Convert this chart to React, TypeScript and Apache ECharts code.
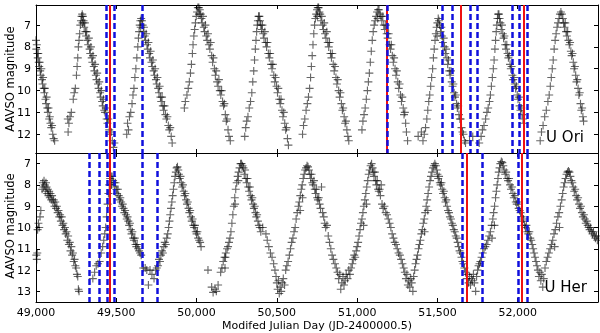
import React, { useEffect, useRef } from "react";
import * as echarts from "echarts";

// U Ori light curve: [Modified Julian Day, AAVSO magnitude]
const uOri: [number, number][] = [
  [49000,7.7],[49002,8.1],[49005,7.9],[49008,8.3],[49011,8.5],[49014,8.3],[49017,8.7],[49020,8.9],[49023,8.7],[49026,9.1],[49030,9.3],[49033,9.0],[49037,9.5],[49041,9.7],[49044,9.4],[49048,9.9],[49052,10.1],[49055,9.9],[49059,10.4],[49063,10.6],[49066,10.3],[49070,10.8],[49074,11.0],[49078,10.8],[49082,11.3],[49086,11.2],[49090,11.5],[49095,11.7],[49100,11.6],[49104,12.0],[49110,12.2],[49116,12.3],
  [49198,11.3],[49200,11.9],[49205,11.5],[49212,11.2],[49220,11.0],[49232,10.4],[49238,10.1],[49245,9.9],[49252,9.3],[49256,8.9],[49260,8.5],[49264,8.0],[49268,7.7],[49272,7.4],[49276,7.0],[49280,6.8],[49284,6.6],[49288,6.5],[49292,6.6],[49290,6.9],
  [49296,6.8],[49300,7.1],[49304,6.9],[49308,7.3],[49312,7.5],[49316,7.3],[49320,7.7],[49325,7.9],[49329,7.6],[49334,8.1],[49338,8.3],[49342,8.0],[49347,8.5],[49351,8.7],[49355,8.4],[49360,8.9],[49364,9.1],[49368,8.8],[49373,9.3],[49377,9.5],[49381,9.2],[49386,9.7],[49390,9.9],[49394,9.6],[49399,10.1],[49403,10.3],[49407,10.0],[49412,10.5],[49416,10.7],[49420,10.4],[49425,10.9],[49430,11.0],[49434,10.8],[49440,11.3],[49445,11.5],[49450,11.3],[49456,11.8],[49462,12.0],[49468,11.9],[49475,12.3],[49482,12.6],[49488,12.4],
  [49565,12.0],[49570,11.5],[49576,11.8],[49582,11.2],[49590,11.0],[49598,10.6],[49604,10.2],[49610,9.9],[49616,9.4],[49622,9.0],[49628,8.5],[49634,8.0],[49638,7.6],[49642,7.3],[49646,7.0],[49650,6.8],[49655,6.7],[49660,6.8],[49652,7.1],
  [49664,7.0],[49668,7.3],[49672,7.1],[49677,7.5],[49682,7.7],[49686,7.4],[49691,7.9],[49696,8.1],[49700,7.8],[49705,8.3],[49710,8.5],[49714,8.2],[49719,8.7],[49724,8.9],[49728,8.6],[49733,9.1],[49738,9.3],[49742,9.0],[49747,9.5],[49752,9.7],[49756,9.4],[49761,9.9],[49766,10.1],[49770,9.8],[49775,10.3],[49780,10.5],[49785,10.3],[49790,10.7],[49795,10.9],[49800,10.7],[49806,11.1],[49812,11.3],[49818,11.2],[49824,11.6],[49830,11.8],[49836,11.7],[49842,12.1],[49848,12.4],
  [49924,10.8],[49930,10.5],[49940,10.2],[49948,9.9],[49955,9.6],[49962,9.2],[49968,8.8],[49974,8.3],[49978,7.9],[49983,7.5],[49988,7.2],[49993,6.9],[49998,6.6],[50003,6.4],[50008,6.2],[50014,6.2],[50020,6.3],[50026,6.5],[50015,6.5],
  [50030,6.7],[50035,6.9],[50040,6.6],[50045,7.1],[50050,7.3],[50055,7.0],[50060,7.5],[50066,7.7],[50071,7.4],[50077,7.9],[50083,8.1],[50088,7.8],[50094,8.4],[50100,8.7],[50105,8.5],[50111,9.0],[50117,9.3],[50122,9.1],[50128,9.6],[50134,9.8],[50139,9.5],[50145,10.0],[50151,10.2],[50156,10.0],[50162,10.5],[50168,10.7],[50173,10.6],[50179,11.1],[50185,11.4],[50190,11.3],[50196,11.8],[50202,12.1],[50210,12.3],
  [50300,12.1],[50306,11.7],[50312,11.4],[50320,11.2],[50328,10.8],[50336,10.5],[50344,10.1],[50350,9.6],[50356,9.1],[50361,8.6],[50366,8.1],[50370,7.7],[50374,7.3],[50378,7.0],[50382,6.8],[50386,6.6],[50391,6.6],[50395,6.8],
  [50400,7.0],[50405,7.2],[50410,7.0],[50415,7.4],[50420,7.6],[50425,7.3],[50430,7.8],[50436,8.0],[50441,7.8],[50447,8.3],[50453,8.5],[50458,8.3],[50464,8.8],[50470,9.0],[50475,8.8],[50481,9.3],[50487,9.6],[50492,9.4],[50498,9.8],[50504,10.1],[50509,9.9],[50515,10.4],[50521,10.6],[50526,10.4],[50532,10.9],[50538,11.2],[50543,11.0],[50549,11.5],[50555,11.8],[50560,11.7],[50566,12.2],[50572,12.5],
  [50660,12.0],[50666,11.6],[50674,11.3],[50682,10.9],[50690,10.6],[50697,10.3],[50704,9.9],[50710,9.4],[50715,8.9],[50720,8.4],[50725,7.9],[50730,7.4],[50735,7.0],[50740,6.7],[50745,6.5],[50750,6.3],[50755,6.2],[50760,6.2],[50765,6.4],[50752,6.6],
  [50770,6.5],[50775,6.8],[50780,6.6],[50785,7.0],[50790,7.2],[50795,6.9],[50800,7.4],[50806,7.6],[50811,7.3],[50817,7.8],[50823,8.0],[50828,7.8],[50834,8.3],[50840,8.5],[50845,8.3],[50851,8.8],[50857,9.1],[50862,8.9],[50868,9.4],[50874,9.7],[50879,9.5],[50885,10.0],[50891,10.3],[50896,10.1],[50902,10.6],[50908,10.9],[50913,10.8],[50919,11.2],[50925,11.5],[50930,11.4],[50936,11.8],[50942,12.1],[50948,12.3],
  [51030,11.8],[51036,11.4],[51043,11.1],[51050,10.8],[51057,10.4],[51064,10.0],[51070,9.6],[51076,9.2],[51082,8.7],[51088,8.2],[51094,7.7],[51100,7.3],[51106,7.0],[51112,6.8],[51118,6.6],[51124,6.4],[51130,6.3],[51136,6.3],[51142,6.5],[51128,6.7],
  [51148,6.6],[51154,6.8],[51160,6.6],[51166,7.0],[51172,7.2],[51178,7.0],[51184,7.4],[51190,7.6],[51196,7.4],[51202,7.9],[51208,8.1],[51213,7.9],[51219,8.4],[51225,8.7],[51230,8.5],[51236,9.0],[51242,9.3],[51247,9.1],[51253,9.6],[51259,9.9],[51264,9.7],[51270,10.2],[51276,10.5],[51281,10.3],[51287,10.8],[51292,11.1],[51297,11.0],[51302,11.5],[51307,11.9],[51314,12.3],[51380,12.1],[51400,11.9],
  [51410,12.3],[51418,12.0],[51426,11.7],[51434,11.3],[51440,10.9],[51446,10.5],[51452,10.2],[51458,9.8],[51464,9.4],[51470,9.0],[51475,8.5],[51480,8.1],[51485,7.7],[51490,7.4],[51495,7.1],[51500,6.9],[51505,6.7],[51510,6.8],[51498,7.5],
  [51514,7.0],[51519,7.3],[51524,7.1],[51529,7.5],[51534,7.8],[51539,7.6],[51544,8.0],[51549,8.3],[51554,8.1],[51559,8.5],[51564,8.8],[51569,8.6],[51574,9.1],[51579,9.3],[51584,9.1],[51589,9.6],[51594,9.8],[51599,9.7],[51604,10.1],[51609,10.3],[51614,10.2],[51619,10.6],[51624,10.8],[51629,10.7],[51634,11.1],[51640,11.3],[51645,11.3],[51650,11.7],[51656,11.9],[51662,12.0],[51668,12.3],[51675,12.4],
  [51700,12.3],[51720,12.1],[51760,12.4],[51772,12.1],[51780,11.8],[51790,11.6],[51800,11.3],[51808,11.0],[51816,10.8],[51824,10.5],[51830,10.2],[51836,9.8],[51842,9.4],[51848,9.0],[51853,8.6],[51858,8.1],[51862,7.7],[51866,7.3],[51870,7.0],[51874,6.7],[51878,6.5],[51883,6.5],[51887,6.7],
  [51892,6.9],[51897,7.2],[51902,7.0],[51907,7.4],[51912,7.6],[51917,7.5],[51922,7.9],[51927,8.1],[51932,7.9],[51937,8.3],[51942,8.5],[51947,8.4],[51952,8.8],[51957,9.0],[51962,8.9],[51967,9.3],[51972,9.5],[51977,9.4],[51982,9.7],[51987,9.9],[51992,9.8],[51997,10.2],[52002,10.4],[52007,10.3],[52012,10.7],[52017,10.9],[52022,10.8],[52027,11.1],[52033,11.3],[52038,11.5],
  [52140,12.3],[52148,11.9],[52158,11.6],[52168,11.2],[52178,10.9],[52188,10.5],[52196,10.2],[52203,9.8],[52209,9.4],[52215,9.0],[52221,8.6],[52227,8.1],[52233,7.7],[52239,7.4],[52245,7.1],[52251,6.9],[52257,6.7],[52263,6.5],[52269,6.4],[52275,6.5],[52281,6.7],
  [52286,6.9],[52291,7.1],[52296,6.9],[52301,7.3],[52306,7.5],[52311,7.3],[52316,7.7],[52321,7.9],[52326,7.8],[52331,8.2],[52336,8.4],[52341,8.3],[52346,8.7],[52351,9.0],[52356,8.9],[52361,9.3],[52366,9.6],[52371,9.5],[52376,9.9],[52381,10.2],[52386,10.1],[52391,10.6],[52396,10.9],[52401,10.8],[52406,11.2],[52410,11.4],
];

// U Her light curve: [Modified Julian Day, AAVSO magnitude]
const uHer: [number, number][] = [
  [49002,11.3],[49005,11.5],[49008,11.2],[49010,10.1],[49015,9.8],[49020,10.0],[49025,9.5],[49030,9.2],
  [49038,8.2],[49042,7.9],[49046,8.1],[49050,7.8],[49054,8.0],[49058,8.3],[49062,7.9],[49066,8.1],[49070,8.4],[49074,8.2],[49078,8.5],[49082,8.3],
  [49086,8.6],[49090,8.4],[49095,8.7],[49100,8.5],[49105,8.8],[49110,8.7],[49115,9.0],[49120,8.8],[49125,9.1],[49130,9.0],[49135,9.3],[49140,9.2],[49145,9.5],[49150,9.4],[49155,9.7],[49160,9.5],[49165,9.9],[49170,9.8],[49175,10.1],[49180,10.0],[49185,10.3],[49190,10.2],[49195,10.6],[49200,10.4],[49205,10.8],[49210,10.7],[49215,11.1],[49220,10.9],[49225,11.3],[49230,11.2],[49235,11.6],[49240,11.5],[49245,11.8],[49250,11.9],[49255,12.2],[49260,12.3],[49264,12.9],[49268,13.0],
  [49354,12.4],[49365,12.1],[49375,11.8],[49386,11.7],[49396,11.6],[49406,11.2],[49415,10.9],[49422,10.6],[49428,10.3],[49434,10.0],[49440,9.5],[49446,8.9],[49451,8.4],[49456,8.0],[49462,7.7],[49468,7.6],[49474,7.6],[49480,7.8],[49470,8.0],
  [49485,7.9],[49490,8.1],[49495,7.9],[49500,8.2],[49505,8.4],[49510,8.2],[49515,8.5],[49520,8.7],[49525,8.6],[49530,8.8],[49535,9.0],[49540,8.9],[49545,9.1],[49550,9.3],[49555,9.2],[49560,9.4],[49565,9.6],[49570,9.5],[49575,9.7],[49580,9.9],[49585,9.8],[49590,10.1],[49595,10.3],[49600,10.2],[49605,10.5],[49610,10.6],[49615,10.5],[49620,10.8],[49625,10.9],[49630,10.8],[49636,11.0],[49642,11.1],[49648,11.2],[49655,11.3],
  [49668,11.9],[49680,11.9],[49690,12.0],[49700,12.7],[49710,12.0],[49722,12.2],[49735,12.4],[49745,12.0],[49752,11.9],
  [49760,11.8],[49766,11.5],[49772,11.6],[49778,11.3],[49784,11.1],[49790,11.2],[49796,10.9],[49802,10.7],[49808,10.8],[49814,10.5],[49820,10.3],[49826,10.0],[49831,9.7],[49836,9.4],[49841,9.1],[49846,8.8],[49851,8.5],[49856,8.2],[49861,7.9],[49866,7.6],[49871,7.4],[49876,7.2],[49881,7.15],[49886,7.3],
  [49890,7.5],[49895,7.7],[49900,7.6],[49905,7.9],[49910,8.1],[49915,8.0],[49920,8.3],[49925,8.5],[49930,8.4],[49935,8.7],[49940,8.9],[49945,8.8],[49950,9.1],[49955,9.3],[49960,9.2],[49965,9.5],[49970,9.7],[49975,9.6],[49980,9.9],[49985,10.0],[49990,9.9],[49995,10.2],[50000,10.3],[50005,10.2],[50010,10.5],[50016,10.6],[50022,10.7],[50028,10.9],
  [50071,12.0],[50094,12.8],[50103,13.05],[50115,12.9],[50123,13.0],[50134,12.7],[50177,11.9],[50180,11.4],
  [50150,12.1],[50158,11.9],[50166,11.6],[50174,11.4],[50182,11.2],[50190,11.0],[50196,10.9],[50202,10.7],[50208,10.5],[50214,10.2],[50220,9.8],[50226,9.4],[50232,9.0],[50238,8.6],[50244,8.2],[50250,7.9],[50256,7.6],[50262,7.4],[50268,7.2],[50274,7.0],[50280,7.0],[50286,7.1],[50260,7.8],[50240,8.9],
  [50292,7.2],[50297,7.5],[50302,7.3],[50307,7.7],[50312,7.9],[50317,7.7],[50322,8.1],[50327,8.3],[50332,8.1],[50337,8.5],[50342,8.7],[50347,8.6],[50352,8.9],[50357,9.1],[50362,9.0],[50367,9.3],[50372,9.5],[50377,9.4],[50382,9.7],[50388,9.9],[50394,10.0],[50400,10.2],[50412,10.0],[50432,10.3],[50440,10.6],[50450,10.9],[50460,11.2],[50470,11.4],[50480,11.7],[50488,12.0],[50495,12.3],[50500,12.6],[50505,12.9],[50510,12.5],[50515,13.1],[50520,12.8],[50527,13.0],[50533,12.6],[50540,12.4],[50548,12.7],
  [50555,12.0],[50562,11.8],[50570,11.6],[50578,11.3],[50585,11.0],[50592,10.7],[50600,10.5],[50607,10.2],[50614,10.0],[50620,9.6],[50627,9.3],[50634,9.0],[50640,8.8],[50646,8.5],[50652,8.2],[50658,8.0],[50664,7.7],[50670,7.5],[50676,7.3],[50682,7.2],[50688,7.1],[50694,7.15],[50700,7.3],[50660,8.6],[50645,9.2],
  [50706,7.5],[50711,7.7],[50716,7.5],[50721,7.9],[50726,8.0],[50731,7.8],[50736,8.2],[50741,8.4],[50746,8.2],[50751,8.6],[50756,8.7],[50761,8.6],[50766,8.9],[50772,9.1],[50778,8.1],[50785,9.3],[50792,9.5],[50798,9.8],[50804,10.0],[50812,9.9],[50820,10.4],[50828,10.7],[50836,11.0],[50844,11.3],[50852,11.5],
  [50862,11.7],[50870,11.9],[50878,12.1],[50885,12.4],[50892,12.2],[50898,12.9],[50905,12.6],[50912,12.3],[50918,12.7],[50925,12.5],[50932,12.2],[50940,12.4],[50948,12.0],[50955,12.2],[50962,11.9],[50970,11.7],
  [50976,11.5],[50982,11.3],[50988,11.4],[50994,11.1],[51000,10.9],[51006,10.7],[51012,10.4],[51018,10.1],[51024,9.8],[51030,9.6],[51036,9.3],[51042,9.0],[51048,8.7],[51054,8.4],[51060,8.1],[51066,7.8],[51072,7.5],[51078,7.3],[51084,7.1],[51090,7.0],[51096,7.2],[51040,9.9],[51058,8.9],
  [51100,7.4],[51105,7.6],[51110,7.4],[51115,7.8],[51120,8.0],[51125,7.8],[51130,8.2],[51135,8.3],[51140,8.2],[51145,8.5],[51150,8.0],[51155,8.9],[51162,9.1],[51170,9.0],[51178,9.3],[51186,9.4],[51194,9.6],[51202,9.8],[51210,10.0],[51218,10.3],[51226,10.5],[51234,10.7],[51242,10.8],[51250,11.0],[51258,11.2],[51266,11.3],[51274,11.5],[51282,11.7],[51290,11.9],[51297,12.1],[51304,12.4],[51310,12.2],[51316,12.7],[51322,12.5],[51328,12.8],[51334,12.4],[51340,12.6],[51347,13.0],[51352,12.3],
  [51358,12.0],[51364,11.7],[51370,11.5],[51376,11.3],[51382,11.0],[51388,10.8],[51394,10.6],[51400,10.3],[51406,10.1],[51412,9.8],[51418,9.6],[51424,9.3],[51430,9.0],[51436,8.7],[51442,8.4],[51448,8.1],[51454,7.8],[51460,7.6],[51466,7.4],[51472,7.2],[51478,7.1],[51484,7.0],[51490,7.1],[51496,7.3],[51440,9.2],[51420,10.2],
  [51500,7.5],[51505,7.7],[51510,7.6],[51515,7.9],[51520,8.0],[51525,7.9],[51530,8.2],[51535,8.4],[51540,8.3],[51545,8.6],[51550,8.8],[51555,8.7],[51560,9.0],[51566,9.2],[51572,9.3],[51578,9.5],[51584,9.6],[51590,9.8],[51596,9.9],[51602,10.1],[51608,10.2],[51614,10.4],[51620,10.5],[51626,10.7],[51632,10.9],[51638,11.1],[51644,11.2],[51650,11.4],[51656,11.6],[51662,11.7],[51668,11.9],
  [51675,12.1],[51682,12.4],[51688,12.2],[51694,12.6],[51700,12.3],[51706,12.7],[51712,12.4],[51718,12.5],[51724,12.2],[51730,12.6],[51738,13.0],[51744,12.3],[51750,12.0],[51756,11.8],[51762,11.7],
  [51768,11.6],[51775,11.4],[51782,11.2],[51790,11.0],[51798,10.9],[51806,10.8],[51814,10.6],[51822,10.4],[51830,10.2],[51838,9.9],[51845,9.6],[51850,9.3],[51856,9.0],[51862,8.6],[51867,8.3],[51872,8.0],[51877,7.7],[51882,7.4],[51887,7.2],[51892,7.0],[51898,6.9],[51904,6.95],[51910,7.1],[51855,9.9],[51840,10.5],
  [51916,7.3],[51922,7.5],[51928,7.4],[51934,7.7],[51940,7.8],[51946,7.7],[51952,8.0],[51958,8.2],[51964,8.1],[51970,8.4],[51976,8.6],[51982,8.5],[51988,8.8],[51994,8.9],[52000,8.8],[52006,9.1],[52012,9.2],[52018,9.3],[52024,9.5],[52030,9.7],[52036,9.6],[52042,9.9],[52048,10.0],[52054,9.9],[52060,10.2],[52066,10.3],[52072,10.2],[52078,10.5],[52084,10.6],[52090,10.8],[52096,11.0],[52102,11.2],[52108,11.4],[52114,11.6],[52120,11.8],[52126,12.0],[52132,12.3],[52138,12.1],[52144,12.5],[52150,12.2],[52156,12.8],[52162,12.4],
  [52170,11.9],[52178,11.6],[52186,11.4],[52194,11.2],[52202,11.0],[52210,10.8],[52218,10.6],[52226,10.3],[52234,10.1],[52242,9.8],[52250,9.5],[52258,9.3],[52266,9.0],[52274,8.7],[52280,8.4],[52286,8.1],[52292,7.9],[52298,7.7],[52304,7.5],[52310,7.4],[52316,7.35],[52322,7.4],[52328,7.6],[52230,10.9],[52260,10.0],
  [52334,7.8],[52340,7.9],[52346,8.1],[52352,8.3],[52358,8.2],[52364,8.5],[52370,8.7],[52376,8.6],[52382,8.9],[52388,9.1],[52394,9.0],[52400,9.3],[52406,9.5],[52412,9.4],[52418,9.6],[52424,9.8],[52430,9.7],[52436,9.9],[52442,10.0],[52448,10.1],[52454,10.0],[52460,10.2],[52466,10.3],[52472,10.2],[52478,10.4],[52484,10.5],[52490,10.4],[52496,10.6],
];

// Vertical epoch lines
const topRed = [49458, 51187, 51645, 52035];
const topBlue = [49437, 49489, 49660, 51187, 51533, 51595, 51706, 51745, 51965, 52009, 52062];
const botRed = [49458, 51685, 52027];
const botBlue = [49333, 49396, 49441, 49487, 49660, 49755, 51657, 51782, 52004, 52058];

const topMagTicks = [7, 8, 9, 10, 11, 12];
const botMagTicks = [7, 8, 9, 10, 11, 12, 13];

const PLUS = "path://M4.3,0H5.7V4.3H10V5.7H5.7V10H4.3V5.7H0V4.3H4.3Z";
const FONT = "'DejaVu Sans', sans-serif";

export default function App() {
  const ref = useRef<HTMLDivElement>(null);
  useEffect(() => {
    if (!ref.current) return;
    const chart = echarts.init(ref.current, null, { renderer: "svg" });
    const axisLine = { show: true, onZero: false, lineStyle: { color: "#000", width: 1 } };
    const tick = { show: true, inside: true, length: 4, lineStyle: { color: "#000", width: 1 } };
    const xBase = (grid: number, pos: string, labels: boolean) => ({
      type: "value", gridIndex: grid, position: pos, min: 49000, max: 52500, interval: 500,
      axisLine, axisTick: tick, splitLine: { show: false },
      axisLabel: { show: labels, color: "#000", fontSize: 11, fontFamily: FONT, margin: 5, showMaxLabel: false },
    });
    const yBase = (grid: number, pos: string, labels: boolean, min: number, max: number, ticks: number[]) => ({
      type: "value", gridIndex: grid, position: pos, inverse: true, min, max,
      axisLine, splitLine: { show: false },
      axisTick: { ...tick, customValues: ticks },
      axisLabel: { show: labels, color: "#000", fontSize: 11, fontFamily: FONT, margin: 5, customValues: ticks },
    });
    const lines = (xi: number, vals: number[], color: string, width: number, dashed: boolean, z: number) => ({
      type: "scatter", xAxisIndex: xi, yAxisIndex: xi, data: [], z, silent: true,
      markLine: {
        silent: true, symbol: ["none", "none"], label: { show: false }, animation: false,
        lineStyle: dashed
          ? { color, width, type: [6, 3], dashOffset: 0, opacity: 1 }
          : { color, width, type: "solid", opacity: 1 },
        emphasis: { disabled: true },
        data: vals.map((v) => ({ xAxis: v })),
      },
    });
    const pts = (xi: number, data: [number, number][]) => ({
      type: "scatter", xAxisIndex: xi, yAxisIndex: xi, data, symbol: PLUS, symbolSize: 8,
      itemStyle: { color: "rgba(0,0,0,0.75)" }, z: 2, silent: true,
    });
    chart.setOption({
      animation: false,
      grid: [
        { left: 36, top: 5, width: 562, height: 148 },
        { left: 36, top: 153, width: 562, height: 149 },
      ],
      xAxis: [xBase(0, "bottom", false), xBase(1, "bottom", true), xBase(0, "top", false), xBase(1, "top", false)],
      yAxis: [
        yBase(0, "left", true, 6.08, 12.86, topMagTicks),
        yBase(1, "left", true, 6.5, 13.5, botMagTicks),
        yBase(0, "right", false, 6.08, 12.86, topMagTicks),
        yBase(1, "right", false, 6.5, 13.5, botMagTicks),
      ],
      series: [
        pts(0, uOri),
        pts(1, uHer),
        lines(0, topRed, "#ee1111", 2, false, 3),
        lines(1, botRed, "#ee1111", 2, false, 3),
        lines(0, topBlue, "#1010dd", 2.5, true, 4),
        lines(1, botBlue, "#1010dd", 2.5, true, 4),
      ],
      graphic: [
        { type: "text", x: 10, y: 79, rotation: Math.PI / 2, style: { text: "AAVSO magnitude", fontSize: 11.5, fontFamily: FONT, fill: "#000", align: "center", verticalAlign: "middle" } },
        { type: "text", x: 10, y: 226, rotation: Math.PI / 2, style: { text: "AAVSO magnitude", fontSize: 11.5, fontFamily: FONT, fill: "#000", align: "center", verticalAlign: "middle" } },
        { type: "text", x: 317, y: 325, style: { text: "Modifed Julian Day (JD-2400000.5)", fontSize: 11, fontFamily: FONT, fill: "#000", align: "center", verticalAlign: "middle" } },
        { type: "text", x: 584, y: 137, style: { text: "U Ori", fontSize: 15, fontFamily: FONT, fill: "#000", align: "right", verticalAlign: "middle" } },
        { type: "text", x: 587, y: 287, style: { text: "U Her", fontSize: 15, fontFamily: FONT, fill: "#000", align: "right", verticalAlign: "middle" } },
      ],
    });
    return () => chart.dispose();
  }, []);
  return <div ref={ref} style={{ position: "fixed", left: 0, top: 0, width: 600, height: 333 }} />;
}
